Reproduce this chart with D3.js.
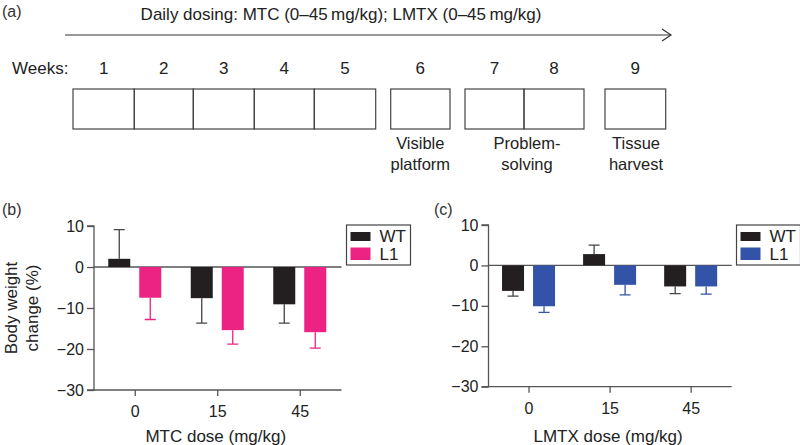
<!DOCTYPE html>
<html><head><meta charset="utf-8">
<script src="https://cdn.jsdelivr.net/npm/d3@7"></script>
<style>
body{margin:0;background:#fff;}
svg{font-family:"Liberation Sans",Arial,Helvetica,sans-serif;}
</style></head>
<body><svg id="c" width="800" height="445"></svg>
<script>
// ---- data ----
const doses = ["0","15","45"];
const groups = ["WT","L1"];
const mtcWT = [2.0, -7.6, -9.1];
const mtcWTerr = [7.1, 6.1, 4.6];
const mtcL1 = [-7.5, -15.4, -15.9];
const mtcL1err = [5.3, 3.4, 3.9];
const lmtxWT = [-6.3, 2.8, -5.2];
const lmtxWTerr = [1.3, 2.2, 1.8];
const lmtxL1 = [-10.1, -4.8, -5.2];
const lmtxL1err = [1.5, 2.5, 1.9];
const yTicks = [10, 0, -10, -20, -30];
const weeks = ["1","2","3","4","5","6","7","8","9"];
const phaseLabels = [["Visible","platform"],["Problem-","solving"],["Tissue","harvest"]];

const svg = d3.select("#c");
const AX = "#555";
const FS = 16;

// ---- panel (a) timeline ----
svg.append("text").attr("x",2).attr("y",17).attr("font-size",16).attr("fill","#333").text("(a)");
svg.append("text").attr("x",341).attr("y",20).attr("text-anchor","middle").attr("font-size",17).attr("fill","#222")
  .text("Daily dosing: MTC (0\u201345\u2009mg/kg); LMTX (0\u201345\u2009mg/kg)");
svg.append("line").attr("x1",65).attr("x2",671).attr("y1",35).attr("y2",35).attr("stroke","#333").attr("stroke-width",1.2);
svg.append("path").attr("d","M662,29 L671,35 L662,41").attr("fill","none").attr("stroke","#333").attr("stroke-width",1.2);

svg.append("text").attr("x",12).attr("y",74).attr("font-size",17).attr("fill","#222").text("Weeks:");
// week boxes edges (left, right) for each week
const boxEdges = [[73,134.3],[134.3,193.3],[193.3,254.3],[254.3,314.3],[314.3,375.7],[390.7,450],[465,524],[524,584],[605,665.7]];
const wx = d3.scaleOrdinal().domain(weeks).range(boxEdges);
svg.append("g").selectAll("rect").data(weeks).join("rect")
  .attr("x",d=>wx(d)[0]).attr("width",d=>wx(d)[1]-wx(d)[0]).attr("y",89).attr("height",40)
  .attr("fill","none").attr("stroke","#444").attr("stroke-width",1.2);
svg.append("g").selectAll("text").data(weeks).join("text")
  .attr("x",d=>(wx(d)[0]+wx(d)[1])/2).attr("y",74).attr("text-anchor","middle").attr("font-size",17).attr("fill","#222").text(d=>d);
const phaseX = [420.3, 527, 636];
phaseLabels.forEach((lines,i)=>{
  lines.forEach((l,j)=>{
    svg.append("text").attr("x",phaseX[i]).attr("y",149+j*21).attr("text-anchor","middle").attr("font-size",16.5).attr("fill","#222").text(l);
  });
});

// ---- bar panels ----
function panel(opt){
  const g = svg.append("g");
  const y = d3.scaleLinear().domain([-30,10]).range([opt.y0,opt.y1]);
  const x = d3.scaleBand().domain(doses).range([opt.xl,opt.xr]);
  const xs = d3.scaleBand().domain(groups).range([-27,26]).paddingInner(9/31);
  const series = [{k:"WT",v:opt.wt,e:opt.wte,c:"#231f20",ec:"#444"},{k:"L1",v:opt.l1,e:opt.l1e,c:opt.col,ec:opt.col}];
  // axes
  g.append("g").attr("transform",`translate(${opt.ax},0)`)
    .call(d3.axisLeft(y).tickValues(yTicks).tickSize(7).tickPadding(3).tickFormat(d=>d<0?"\u2212"+Math.abs(d):d))
    .call(a=>{a.select(".domain").attr("stroke",AX).attr("stroke-width",1.3).attr("d",`M-7,${y(10)}H0V${y(-30)}H-7`);
      a.selectAll(".tick line").attr("stroke",AX).attr("stroke-width",1.3);
      a.selectAll("text").attr("font-size",FS).attr("fill","#222").attr("font-family",null);});
  g.append("g").attr("transform",`translate(0,${y(-30)})`)
    .call(d3.axisBottom(x).tickSize(6).tickPadding(6).tickSizeOuter(0))
    .call(a=>{a.select(".domain").attr("stroke",AX).attr("stroke-width",1.3).attr("d",`M${opt.ax},0H${opt.xr}`);
      a.selectAll(".tick line").attr("stroke",AX).attr("stroke-width",1.3);
      a.selectAll("text").attr("font-size",FS).attr("fill","#222").attr("font-family",null).attr("dy","0.95em");});
  // zero line
  g.append("line").attr("x1",opt.ax).attr("x2",opt.xr).attr("y1",y(0)).attr("y2",y(0)).attr("stroke",AX).attr("stroke-width",1.3);
  series.forEach(s=>{
    const cx = d => x(doses[d])+x.bandwidth()/2 + xs(s.k);
    const idx = d3.range(doses.length);
    // error bars (one-sided, away from zero)
    g.append("g").selectAll("path").data(idx).join("path")
      .attr("d",i=>{const sgn = s.v[i]>=0?1:-1; const xm = cx(i)+xs.bandwidth()/2; const ye = y(s.v[i]+sgn*s.e[i]);
        return `M${xm},${y(s.v[i])}V${ye}M${xm-5.5},${ye}H${xm+5.5}`;})
      .attr("stroke",s.ec).attr("stroke-width",1.3).attr("fill","none");
    g.append("g").selectAll("rect").data(idx).join("rect")
      .attr("x",i=>cx(i)).attr("width",xs.bandwidth())
      .attr("y",i=>Math.min(y(s.v[i]),y(0))).attr("height",i=>Math.abs(y(s.v[i])-y(0)))
      .attr("fill",s.c);
  });
  // labels
  g.append("text").attr("x",opt.lx).attr("y",opt.ly).attr("font-size",16).attr("fill","#333").text(opt.label);
  g.append("text").attr("x",(opt.ax+opt.xr)/2-2).attr("y",442).attr("text-anchor","middle").attr("font-size",17).attr("fill","#222").text(opt.xtitle);
  if(opt.ytitle){
    const t = g.append("text").attr("transform",`translate(17,${(opt.y0+opt.y1)/2}) rotate(-90)`).attr("text-anchor","middle").attr("font-size",17).attr("fill","#222");
    t.append("tspan").attr("x",0).attr("dy",0).text("Body weight");
    t.append("tspan").attr("x",0).attr("dy",21).text("change (%)");
  }
  // legend
  const lg = g.append("g").attr("transform",`translate(${opt.legx},225)`);
  lg.append("rect").attr("x",0).attr("y",0).attr("width",64).attr("height",40).attr("fill","#fff").attr("stroke","#444").attr("stroke-width",1.2);
  series.forEach((s,i)=>{
    lg.append("rect").attr("x",4).attr("y",7+i*15.5).attr("width",20).attr("height",9+i*3.5).attr("fill",s.c);
    lg.append("text").attr("x",33).attr("y",16.5+i*18.5).attr("font-size",17).attr("fill","#222").text(s.k);
  });
}

panel({y0:390,y1:226,xl:94,xr:341.5,ax:94,col:"#ec2382",wt:mtcWT,wte:mtcWTerr,l1:mtcL1,l1e:mtcL1err,
  label:"(b)",lx:2,ly:215,xtitle:"MTC dose (mg/kg)",ytitle:true,legx:346.5});
panel({y0:386.7,y1:225,xl:488.5,xr:731.7,ax:488.5,col:"#3353a8",wt:lmtxWT,wte:lmtxWTerr,l1:lmtxL1,l1e:lmtxL1err,
  label:"(c)",lx:434,ly:215,xtitle:"LMTX dose (mg/kg)",ytitle:false,legx:736.5});
</script></body></html>
